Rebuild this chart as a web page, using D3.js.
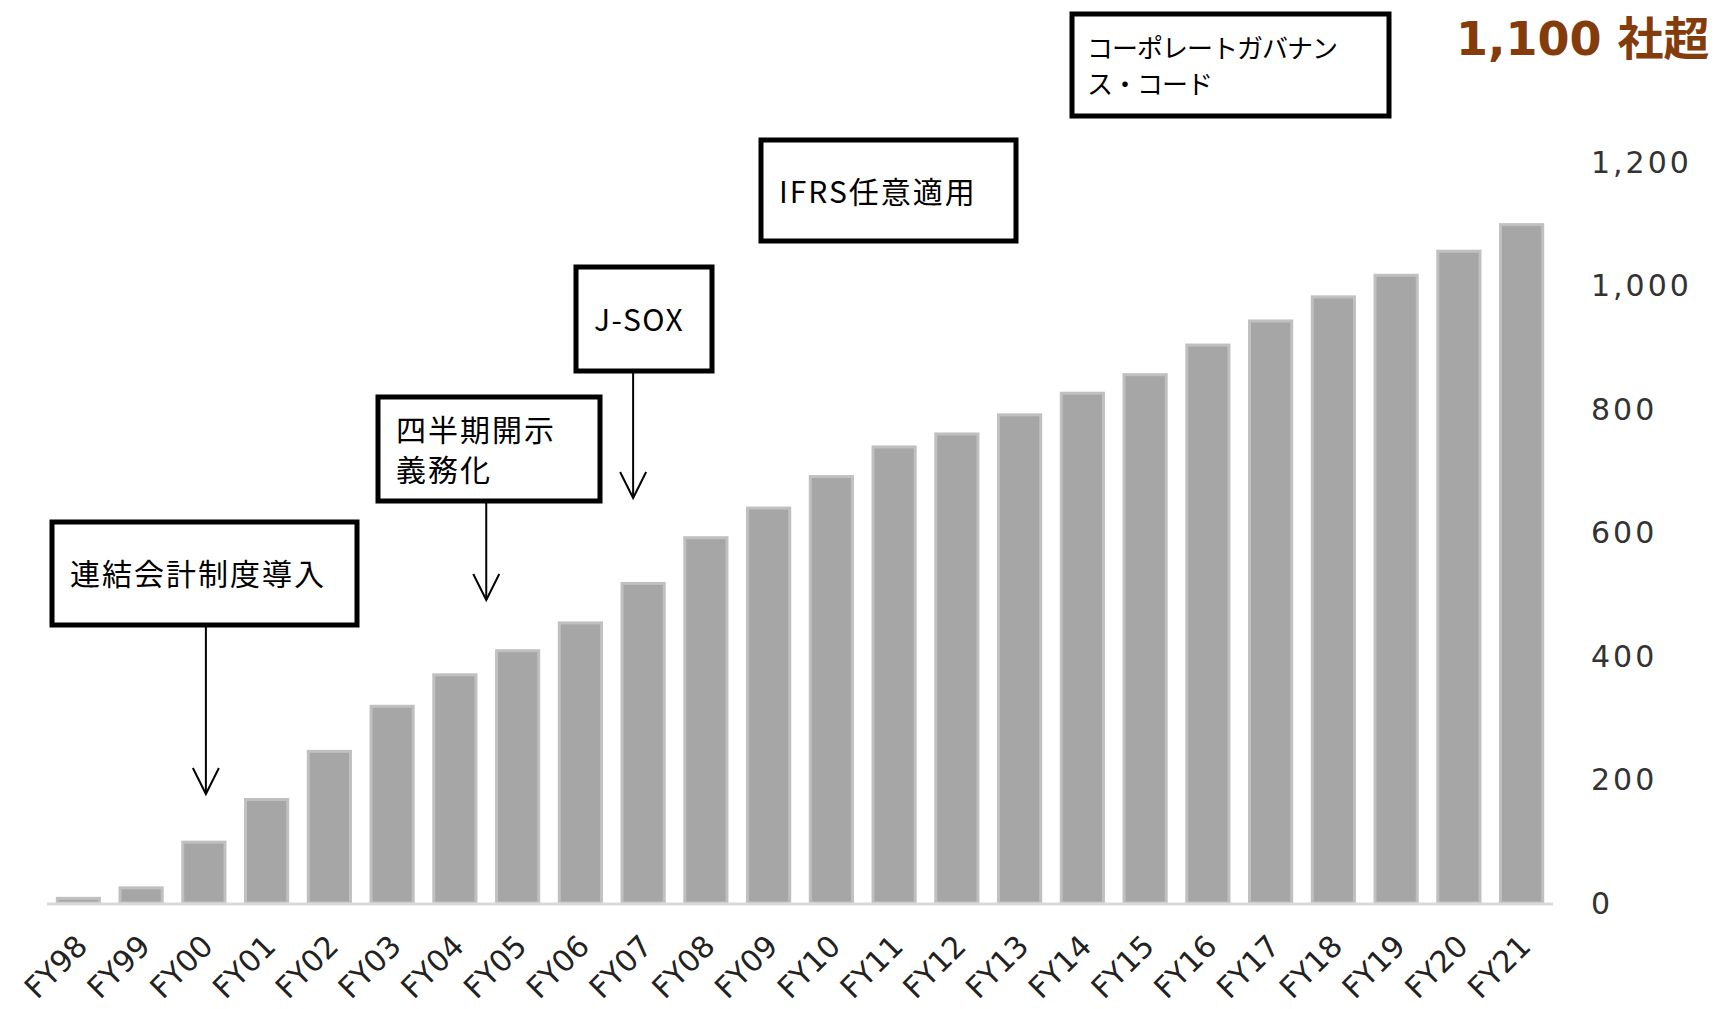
<!DOCTYPE html>
<html>
<head>
<meta charset="utf-8">
<script src="https://cdn.jsdelivr.net/npm/d3@7"></script>
<style>
  body { margin: 0; background: #fff; overflow: hidden; }
  .box text { font-family: "Noto Sans CJK JP", sans-serif; fill: #000; }
  .tick-y { font-family: "DejaVu Sans", Verdana, sans-serif; font-size: 30px; fill: #333; letter-spacing: 3px; }
  .tick-x { font-family: "DejaVu Sans", Verdana, sans-serif; font-size: 30px; fill: #222; }
</style>
</head>
<body>
<script>
var width = 1717;
var height = 1009;

var categories = ["FY98", "FY99", "FY00", "FY01", "FY02", "FY03", "FY04", "FY05",
                  "FY06", "FY07", "FY08", "FY09", "FY10", "FY11", "FY12", "FY13",
                  "FY14", "FY15", "FY16", "FY17", "FY18", "FY19", "FY20", "FY21"];
var companies = [10, 27, 101, 170, 248, 321, 372, 411,
                 456, 520, 594, 642, 693, 741, 762, 793,
                 828, 858, 906, 945, 984, 1019, 1058, 1101];
var yTicks = [0, 200, 400, 600, 800, 1000, 1200];
var headline = "1,100 社超";

var svg = d3.select("body").append("svg")
    .attr("width", width)
    .attr("height", height);

var x = d3.scaleBand()
    .domain(categories)
    .range([47, 1553])
    .paddingInner(0.28)
    .paddingOuter(0.14);

var y = d3.scaleLinear()
    .domain([0, 1200])
    .range([903, 162]);

// bars
svg.selectAll(".bar")
    .data(companies)
  .enter().append("rect")
    .attr("class", "bar")
    .attr("x", function (d, i) { return x(categories[i]) + 1.5; })
    .attr("width", x.bandwidth() - 3)
    .attr("y", function (d) { return y(d) + 1.5; })
    .attr("height", function (d) { return y(0) - y(d) - 1.5; })
    .style("fill", "#a6a6a6")
    .style("stroke", "#c0c0c0")
    .style("stroke-width", 3);

// baseline
svg.append("line")
    .attr("x1", 47).attr("x2", 1553)
    .attr("y1", y(0) + 1).attr("y2", y(0) + 1)
    .style("stroke", "#d9d9d9")
    .style("stroke-width", 3);

// y labels on the right
svg.selectAll(".tick-y")
    .data(yTicks)
  .enter().append("text")
    .attr("class", "tick-y")
    .attr("x", 1591)
    .attr("y", function (d) { return y(d); })
    .attr("dy", "0.36em")
    .text(function (d) { return d3.format(",")(d); });

// x labels, rotated
svg.selectAll(".tick-x")
    .data(categories)
  .enter().append("text")
    .attr("class", "tick-x")
    .attr("text-anchor", "end")
    .attr("transform", function (d) {
      return "translate(" + (x(d) + x.bandwidth() / 2 + 11) + ",948) rotate(-45)";
    })
    .text(function (d) { return d; });

// annotation boxes
function box(x0, y0, w, h, lines, tx, ty, lh, fs, ls) {
  var g = svg.append("g").attr("class", "box");
  g.append("rect")
    .attr("x", x0).attr("y", y0)
    .attr("width", w).attr("height", h)
    .style("fill", "#fff")
    .style("stroke", "#000")
    .style("stroke-width", 5);
  g.selectAll("text")
    .data(lines)
  .enter().append("text")
    .attr("x", tx)
    .attr("y", function (d, i) { return ty + i * lh; })
    .attr("dy", "0.36em")
    .style("font-size", fs + "px")
    .style("letter-spacing", ls + "px")
    .text(function (d) { return d; });
}

function arrow(ax, y0, y1) {
  svg.append("line")
    .attr("x1", ax).attr("x2", ax)
    .attr("y1", y0).attr("y2", y1)
    .style("stroke", "#000").style("stroke-width", 2);
  svg.append("path")
    .attr("d", "M" + (ax - 13) + "," + (y1 - 26) + "L" + ax + "," + y1 + "L" + (ax + 13) + "," + (y1 - 26))
    .style("fill", "none").style("stroke", "#000").style("stroke-width", 2);
}

var half = x.bandwidth() / 2;

box(52, 522, 305, 103, ["連結会計制度導入"], 70, 574, 0, 30, 2);
arrow(x("FY00") + half + 2, 627, 794);

box(378, 397, 222, 104, ["四半期開示", "義務化"], 396, 430, 40, 30, 2);
arrow((x("FY04") + x("FY05")) / 2 + half, 503, 600);

box(576, 267, 136, 104, ["J-SOX"], 594, 320, 0, 30, 1.5);
arrow(x("FY07") + half - 10, 373, 498);

box(761, 140, 255, 101, ["IFRS任意適用"], 779, 192, 0, 30, 2);

box(1072, 14, 317, 102, ["コーポレートガバナン", "ス・コード"], 1087, 49, 36, 26, -1);

svg.append("text")
    .attr("x", 1456)
    .attr("y", 55)
    .style("font-family", "\"DejaVu Sans\", \"Noto Sans CJK JP\", sans-serif")
    .style("font-weight", "bold")
    .style("font-size", "46px")
    .style("fill", "#843c0c")
    .text(headline);
</script>
</body>
</html>
